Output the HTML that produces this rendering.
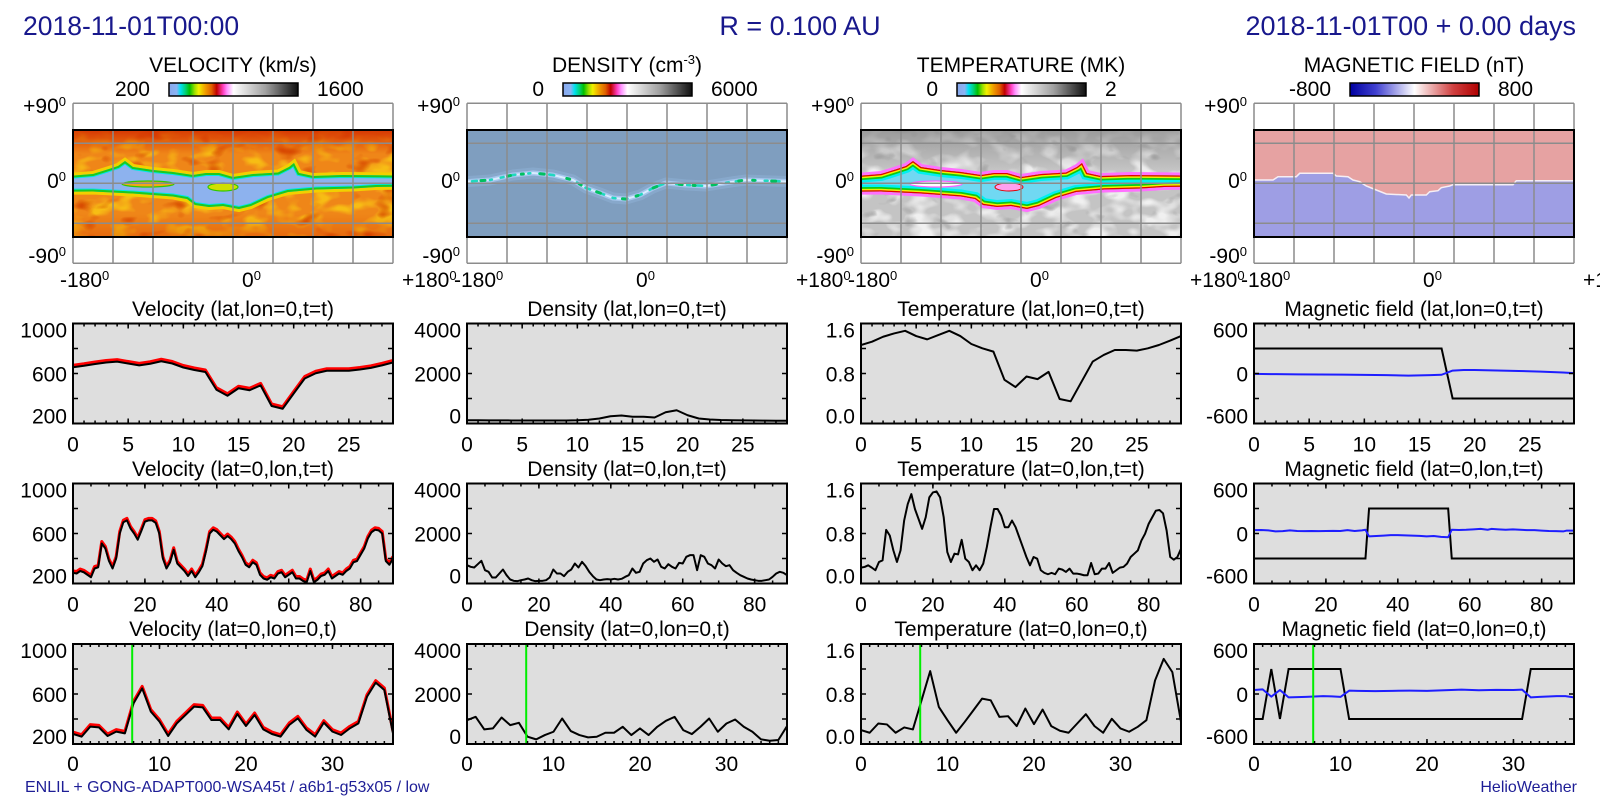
<!DOCTYPE html>
<html><head><meta charset="utf-8"><style>html,body{margin:0;padding:0;background:#fff;}svg{display:block}</style></head>
<body>
<svg xmlns="http://www.w3.org/2000/svg" xmlns:xlink="http://www.w3.org/1999/xlink" width="1600" height="800" viewBox="0 0 1600 800" font-family="'Liberation Sans', Arial, sans-serif">
<defs>
<linearGradient id="cbR" x1="0" y1="0" x2="1" y2="0">
<stop offset="0" stop-color="#88a8ec"/><stop offset="0.06" stop-color="#8ab4f4"/><stop offset="0.09" stop-color="#00e0f0"/><stop offset="0.13" stop-color="#00d070"/><stop offset="0.16" stop-color="#00c000"/><stop offset="0.2" stop-color="#a0e000"/><stop offset="0.23" stop-color="#f0f000"/><stop offset="0.28" stop-color="#f0a000"/><stop offset="0.33" stop-color="#e06000"/><stop offset="0.37" stop-color="#c00000"/><stop offset="0.42" stop-color="#ff40c0"/><stop offset="0.45" stop-color="#ff90ff"/><stop offset="0.5" stop-color="#ffffff"/><stop offset="0.75" stop-color="#a0a0a0"/><stop offset="1" stop-color="#101010"/>
</linearGradient>
<linearGradient id="cbB" x1="0" y1="0" x2="1" y2="0">
<stop offset="0" stop-color="#0000a0"/><stop offset="0.2" stop-color="#4040d0"/><stop offset="0.4" stop-color="#c0c0f0"/><stop offset="0.5" stop-color="#ffffff"/><stop offset="0.6" stop-color="#f0c0c0"/><stop offset="0.8" stop-color="#d04040"/><stop offset="1" stop-color="#b00000"/>
</linearGradient>
<linearGradient id="gRed" x1="0" y1="0" x2="0" y2="1"><stop offset="0" stop-color="#d42e00" stop-opacity="0.9"/><stop offset="1" stop-color="#d42e00" stop-opacity="0"/></linearGradient>
<linearGradient id="gRedB" x1="0" y1="1" x2="0" y2="0"><stop offset="0" stop-color="#d84000" stop-opacity="0.4"/><stop offset="1" stop-color="#d84000" stop-opacity="0"/></linearGradient>
<linearGradient id="gGray" x1="0" y1="0" x2="0" y2="1"><stop offset="0" stop-color="#8c8c8c" stop-opacity="0.75"/><stop offset="1" stop-color="#8c8c8c" stop-opacity="0"/></linearGradient>
<filter id="nY" x="0" y="0" width="1" height="1" color-interpolation-filters="sRGB">
<feTurbulence type="fractalNoise" baseFrequency="0.045 0.08" numOctaves="2" seed="4"/>
<feColorMatrix type="matrix" values="0 0 0 0 0.97  0 0 0 0 0.74  0 0 0 0 0.08  4 0 0 0 -1.9"/>
</filter>
<filter id="nR" x="0" y="0" width="1" height="1" color-interpolation-filters="sRGB">
<feTurbulence type="fractalNoise" baseFrequency="0.04 0.07" numOctaves="2" seed="9"/>
<feColorMatrix type="matrix" values="0 0 0 0 0.84  0 0 0 0 0.28  0 0 0 0 0  0 4 0 0 -2.4"/>
</filter>
<filter id="nW" x="0" y="0" width="1" height="1" color-interpolation-filters="sRGB">
<feTurbulence type="fractalNoise" baseFrequency="0.045 0.07" numOctaves="2" seed="7"/>
<feColorMatrix type="matrix" values="0 0 0 0 0.94  0 0 0 0 0.94  0 0 0 0 0.94  4 0 0 0 -1.8"/>
</filter>
<filter id="nD" x="0" y="0" width="1" height="1" color-interpolation-filters="sRGB">
<feTurbulence type="fractalNoise" baseFrequency="0.05 0.08" numOctaves="2" seed="12"/>
<feColorMatrix type="matrix" values="0 0 0 0 0.6  0 0 0 0 0.6  0 0 0 0 0.6  0 4 0 0 -2.5"/>
</filter>
<path id="band" d="M-5,176 L20,174 L36,169 L45,166 L52,161 L60,167 L80,170 L100,172 L120,175 L133,173 L146,173 L160,177 L180,174 L205,172.5 L216,167 L221,163 L226,173 L240,176 L270,175 L325,175.5 L325,186.7 L303,187 L280,188.5 L243,189.5 L215,192 L195,198 L178,206 L166,209 L150,206 L136,207 L122,205 L114,199 L100,196.5 L80,195 L60,193.5 L40,192.5 L20,191.5 L-5,191.7 Z"/>
<path id="dband" d="M-5,182 L23,180 L46,175 L66,173 L86,175 L106,180 L119,188 L133,193 L146,198 L159,199 L173,195 L186,188 L199,183 L219,185 L239,186 L266,181.7 L279,180 L325,181.7"/>
<clipPath id="cV"><rect x="73" y="130" width="320" height="107"/></clipPath>
<clipPath id="cD"><rect x="467" y="130" width="320" height="107"/></clipPath>
<clipPath id="cT"><rect x="861" y="130" width="320" height="107"/></clipPath>
<clipPath id="cbV"><use xlink:href="#band" transform="translate(73,0)"/></clipPath>
<clipPath id="cbT"><use xlink:href="#band" transform="translate(861,0)"/></clipPath>
<g id="grid" stroke="#8c8c8c" stroke-width="1.5" fill="none">
<path d="M0,103.3H320 M0,143.3H320 M0,183.3H320 M0,223.3H320 M0,263.3H320 M0,103.3V263.3 M40,103.3V263.3 M80,103.3V263.3 M120,103.3V263.3 M160,103.3V263.3 M200,103.3V263.3 M240,103.3V263.3 M280,103.3V263.3 M320,103.3V263.3"/>
</g>
<g id="yt" stroke="#000" stroke-width="1.5" fill="none"><path d="M0,25H5 M0,50H5 M0,75H5 M315,25H320 M315,50H320 M315,75H320"/><rect x="0" y="0" width="320" height="100" stroke-width="2"/></g>
<g id="tk1" stroke="#000" fill="none">
<line x1="0" y1="1.5" x2="320" y2="1.5" stroke-width="3" stroke-dasharray="1.5 9.5345" stroke-dashoffset="0.75"/>
<line x1="0" y1="98.5" x2="320" y2="98.5" stroke-width="3" stroke-dasharray="1.5 9.5345" stroke-dashoffset="0.75"/>
<line x1="0" y1="2.5" x2="320" y2="2.5" stroke-width="5" stroke-dasharray="1.5 53.6725" stroke-dashoffset="0.75"/>
<line x1="0" y1="97.5" x2="320" y2="97.5" stroke-width="5" stroke-dasharray="1.5 53.6725" stroke-dashoffset="0.75"/>
<use xlink:href="#yt"/>
</g>
<g id="tk2" stroke="#000" fill="none">
<line x1="0" y1="1.5" x2="320" y2="1.5" stroke-width="3" stroke-dasharray="1.5 16.478" stroke-dashoffset="0.75"/>
<line x1="0" y1="98.5" x2="320" y2="98.5" stroke-width="3" stroke-dasharray="1.5 16.478" stroke-dashoffset="0.75"/>
<line x1="0" y1="2.5" x2="320" y2="2.5" stroke-width="5" stroke-dasharray="1.5 70.41" stroke-dashoffset="0.75"/>
<line x1="0" y1="97.5" x2="320" y2="97.5" stroke-width="5" stroke-dasharray="1.5 70.41" stroke-dashoffset="0.75"/>
<use xlink:href="#yt"/>
</g>
<g id="tk3" stroke="#000" fill="none">
<line x1="0" y1="1.5" x2="320" y2="1.5" stroke-width="3" stroke-dasharray="1.5 7.1486" stroke-dashoffset="0.75"/>
<line x1="0" y1="98.5" x2="320" y2="98.5" stroke-width="3" stroke-dasharray="1.5 7.1486" stroke-dashoffset="0.75"/>
<line x1="0" y1="2.5" x2="320" y2="2.5" stroke-width="5" stroke-dasharray="1.5 84.986" stroke-dashoffset="0.75"/>
<line x1="0" y1="97.5" x2="320" y2="97.5" stroke-width="5" stroke-dasharray="1.5 84.986" stroke-dashoffset="0.75"/>
<use xlink:href="#yt"/>
</g>
</defs>

<rect x="0" y="0" width="1600" height="800" fill="#fff"/>

<!-- Header -->
<g fill="#18188c">
<text x="23" y="35" font-size="26.5">2018-11-01T00:00</text>
<text x="800" y="35" font-size="27" text-anchor="middle">R = 0.100 AU</text>
<text x="1576" y="35" font-size="27" text-anchor="end">2018-11-01T00 + 0.00 days</text>
</g>

<!-- ===== MAPS ===== -->
<!-- Velocity map -->
<g clip-path="url(#cV)">
<rect x="73" y="130" width="320" height="107" fill="#ef8618"/>
<rect x="73" y="130" width="320" height="107" filter="url(#nY)"/>
<rect x="73" y="130" width="320" height="107" filter="url(#nR)"/>
<rect x="73" y="130" width="320" height="24" fill="url(#gRed)"/>
<rect x="73" y="214" width="320" height="23" fill="url(#gRedB)"/>
<use xlink:href="#band" transform="translate(73,0)" fill="none" stroke="#f2d000" stroke-width="6"/>
<g clip-path="url(#cbV)">
<use xlink:href="#band" transform="translate(73,0)" fill="#8db2ee" stroke="#00e6e6" stroke-width="6"/>
<use xlink:href="#band" transform="translate(73,0)" fill="none" stroke="#1ec81e" stroke-width="4"/>
</g>
<ellipse cx="148" cy="184" rx="26" ry="3" fill="#f0a818" stroke="#30c800" stroke-width="1.2"/>
<ellipse cx="223" cy="187" rx="15" ry="4" fill="#d0e000" stroke="#30c800" stroke-width="1.2"/>
</g>
<use xlink:href="#grid" transform="translate(73,0)"/>
<rect x="73" y="130" width="320" height="107" fill="none" stroke="#000" stroke-width="2"/>

<!-- Density map -->
<g clip-path="url(#cD)">
<rect x="467" y="130" width="320" height="107" fill="#7f9ebf"/>
<g transform="translate(467,0)" fill="none" stroke-linejoin="round" stroke-linecap="round">
<use xlink:href="#dband" stroke="#90b2d8" stroke-width="11" opacity="0.5"/>
<use xlink:href="#dband" stroke="#a8c8f0" stroke-width="5" opacity="0.9"/>
<use xlink:href="#dband" stroke="#d8ecff" stroke-width="2"/>
<use xlink:href="#dband" stroke="#20d8c0" stroke-width="2.5" stroke-dasharray="3 7 5 13 2 9"/>
<use xlink:href="#dband" stroke="#00c060" stroke-width="3" stroke-dasharray="2 17 4 23 3 11"/>
</g>
</g>
<use xlink:href="#grid" transform="translate(467,0)"/>
<rect x="467" y="130" width="320" height="107" fill="none" stroke="#000" stroke-width="2"/>

<!-- Temperature map -->
<g clip-path="url(#cT)">
<rect x="861" y="130" width="320" height="107" fill="#c4c4c4"/>
<rect x="861" y="130" width="320" height="107" filter="url(#nW)"/>
<rect x="861" y="130" width="320" height="107" filter="url(#nD)"/>
<rect x="861" y="130" width="320" height="40" fill="url(#gGray)"/>
<use xlink:href="#band" transform="translate(861,0)" fill="none" stroke="#ff70ff" stroke-width="6"/>
<g clip-path="url(#cbT)">
<use xlink:href="#band" transform="translate(861,0)" fill="#70d8f2" stroke="#00f0f0" stroke-width="14"/>
<use xlink:href="#band" transform="translate(861,0)" fill="none" stroke="#10c810" stroke-width="9"/>
<use xlink:href="#band" transform="translate(861,0)" fill="none" stroke="#f0f000" stroke-width="5.5"/>
<use xlink:href="#band" transform="translate(861,0)" fill="none" stroke="#e00000" stroke-width="2.5"/>
</g>
<ellipse cx="936" cy="184" rx="26" ry="3" fill="#ffffff" stroke="#ff60ff" stroke-width="1.2"/>
<ellipse cx="1009" cy="187" rx="14" ry="4" fill="#ffa0f0" stroke="#e00000" stroke-width="1"/>
</g>
<use xlink:href="#grid" transform="translate(861,0)"/>
<rect x="861" y="130" width="320" height="107" fill="none" stroke="#000" stroke-width="2"/>

<!-- Magnetic map -->
<rect x="1254" y="130" width="320" height="107" fill="#e6a2a2"/>
<polygon points="1254,180 1273,180 1278,176.7 1296.3,176.7 1299.7,173.3 1333,173.3 1336.3,176 1348,176.7 1353,180 1359.7,181.7 1366.3,186 1376.3,190 1386.3,194 1406.3,195 1409,198 1411.3,195 1426.3,195 1429.7,191.7 1438,190.7 1441.3,187.7 1449.7,186 1453,184.7 1513,184.7 1516.3,180.7 1574,180.7 1574,237 1254,237" fill="#9e9ee4"/>
<polyline points="1254,180 1273,180 1278,176.7 1296.3,176.7 1299.7,173.3 1333,173.3 1336.3,176 1348,176.7 1353,180 1359.7,181.7 1366.3,186 1376.3,190 1386.3,194 1406.3,195 1409,198 1411.3,195 1426.3,195 1429.7,191.7 1438,190.7 1441.3,187.7 1449.7,186 1453,184.7 1513,184.7 1516.3,180.7 1574,180.7" fill="none" stroke="#f6eef4" stroke-width="1.5"/>
<use xlink:href="#grid" transform="translate(1254,0)"/>
<rect x="1254" y="130" width="320" height="107" fill="none" stroke="#000" stroke-width="2"/>

<!-- Colorbars -->
<rect x="169" y="83" width="129" height="13" fill="url(#cbR)" stroke="#000" stroke-width="1.5"/>
<rect x="563" y="83" width="129" height="13" fill="url(#cbR)" stroke="#000" stroke-width="1.5"/>
<rect x="957" y="83" width="129" height="13" fill="url(#cbR)" stroke="#000" stroke-width="1.5"/>
<rect x="1350" y="83" width="129" height="13" fill="url(#cbB)" stroke="#000" stroke-width="1.5"/>

<!-- Map texts -->
<g font-size="21" fill="#000">
<text x="233" y="72" text-anchor="middle">VELOCITY (km/s)</text>
<text x="627" y="72" text-anchor="middle">DENSITY (cm<tspan font-size="13" dy="-8">-3</tspan><tspan dy="8">)</tspan></text>
<text x="1021" y="72" text-anchor="middle">TEMPERATURE (MK)</text>
<text x="1414" y="72" text-anchor="middle">MAGNETIC FIELD (nT)</text>

<text x="150" y="96" text-anchor="end">200</text><text x="317" y="96">1600</text>
<text x="544" y="96" text-anchor="end">0</text><text x="711" y="96">6000</text>
<text x="938" y="96" text-anchor="end">0</text><text x="1105" y="96">2</text>
<text x="1331" y="96" text-anchor="end">-800</text><text x="1498" y="96">800</text>

<text x="66" y="113" text-anchor="end">+90<tspan font-size="13" dy="-7">0</tspan></text>
<text x="66" y="188" text-anchor="end">0<tspan font-size="13" dy="-7">0</tspan></text>
<text x="66" y="263" text-anchor="end">-90<tspan font-size="13" dy="-7">0</tspan></text>
<text x="460" y="113" text-anchor="end">+90<tspan font-size="13" dy="-7">0</tspan></text>
<text x="460" y="188" text-anchor="end">0<tspan font-size="13" dy="-7">0</tspan></text>
<text x="460" y="263" text-anchor="end">-90<tspan font-size="13" dy="-7">0</tspan></text>
<text x="854" y="113" text-anchor="end">+90<tspan font-size="13" dy="-7">0</tspan></text>
<text x="854" y="188" text-anchor="end">0<tspan font-size="13" dy="-7">0</tspan></text>
<text x="854" y="263" text-anchor="end">-90<tspan font-size="13" dy="-7">0</tspan></text>
<text x="1247" y="113" text-anchor="end">+90<tspan font-size="13" dy="-7">0</tspan></text>
<text x="1247" y="188" text-anchor="end">0<tspan font-size="13" dy="-7">0</tspan></text>
<text x="1247" y="263" text-anchor="end">-90<tspan font-size="13" dy="-7">0</tspan></text>

<text x="60" y="287">-180<tspan font-size="13" dy="-7">0</tspan></text>
<text x="242" y="287">0<tspan font-size="13" dy="-7">0</tspan></text>
<text x="402" y="287">+180<tspan font-size="13" dy="-7">0</tspan></text>
<text x="454" y="287">-180<tspan font-size="13" dy="-7">0</tspan></text>
<text x="636" y="287">0<tspan font-size="13" dy="-7">0</tspan></text>
<text x="796" y="287">+180<tspan font-size="13" dy="-7">0</tspan></text>
<text x="848" y="287">-180<tspan font-size="13" dy="-7">0</tspan></text>
<text x="1030" y="287">0<tspan font-size="13" dy="-7">0</tspan></text>
<text x="1190" y="287">+180<tspan font-size="13" dy="-7">0</tspan></text>
<text x="1241" y="287">-180<tspan font-size="13" dy="-7">0</tspan></text>
<text x="1423" y="287">0<tspan font-size="13" dy="-7">0</tspan></text>
<text x="1583" y="287">+180<tspan font-size="13" dy="-7">0</tspan></text>
</g>

<!-- ===== LINE PLOTS ===== -->
<g font-size="21" fill="#000">

<!-- Velocity row 1 -->
<g transform="translate(73,323.5)">
<rect x="0" y="0" width="320" height="100" fill="#dedede"/>
<svg x="0" y="-2" width="320" height="100" viewBox="0 -1000 29 800" preserveAspectRatio="none"><polyline fill="none" stroke="#ff0000" stroke-width="3" vector-effect="non-scaling-stroke" stroke-linejoin="round" points="0,-650 1,-662 2,-676 3,-688 4,-695 5,-680 6,-665 7,-678 8,-698 9,-680 10,-648 11,-628 12,-612 13,-470 14,-422 15,-482 16,-466 17,-505 18,-340 19,-318 20,-440 21,-560 22,-602 23,-622 24,-622 25,-622 26,-632 27,-645 28,-665 29,-688"/></svg>
<svg x="0" y="0" width="320" height="100" viewBox="0 -1000 29 800" preserveAspectRatio="none"><polyline fill="none" stroke="#000" stroke-width="2" vector-effect="non-scaling-stroke" stroke-linejoin="round" points="0,-650 1,-662 2,-676 3,-688 4,-695 5,-680 6,-665 7,-678 8,-698 9,-680 10,-648 11,-628 12,-612 13,-470 14,-422 15,-482 16,-466 17,-505 18,-340 19,-318 20,-440 21,-560 22,-602 23,-622 24,-622 25,-622 26,-632 27,-645 28,-665 29,-688"/></svg>
<use xlink:href="#tk1"/>
<text x="160" y="-7.5" text-anchor="middle">Velocity (lat,lon=0,t=t)</text>
<text x="-6" y="14" text-anchor="end">1000</text><text x="-6" y="58" text-anchor="end">600</text><text x="-6" y="100" text-anchor="end">200</text>
<g text-anchor="middle"><text x="0" y="128">0</text><text x="55.17" y="128">5</text><text x="110.34" y="128">10</text><text x="165.52" y="128">15</text><text x="220.69" y="128">20</text><text x="275.86" y="128">25</text></g>
</g>

<!-- Velocity row 2 -->
<g transform="translate(73,483.5)">
<rect x="0" y="0" width="320" height="100" fill="#dedede"/>
<svg x="0" y="-2" width="320" height="100" viewBox="0 -1000 89 800" preserveAspectRatio="none"><polyline fill="none" stroke="#ff0000" stroke-width="3" vector-effect="non-scaling-stroke" stroke-linejoin="round" points="0,-285 1,-280 2,-300 3,-290 4,-270 5,-250 6,-320 7,-330 8,-520 9,-480 10,-380 11,-320 12,-400 13,-600 14,-690 15,-705 16,-640 17,-600 18,-550 19,-620 20,-695 21,-705 22,-705 23,-685 24,-600 25,-400 26,-320 27,-370 28,-470 29,-360 30,-330 31,-300 32,-260 33,-300 34,-250 35,-290 36,-340 37,-460 38,-600 39,-630 40,-615 41,-585 42,-555 43,-580 44,-555 45,-520 46,-460 47,-410 48,-350 49,-330 50,-370 51,-350 52,-270 53,-240 54,-230 55,-250 56,-240 57,-280 58,-290 59,-250 60,-270 61,-290 62,-240 63,-240 64,-220 65,-210 66,-300 67,-210 68,-230 69,-260 70,-270 71,-300 72,-240 73,-260 74,-280 75,-270 76,-300 77,-320 78,-370 79,-380 80,-430 81,-480 82,-560 83,-610 84,-630 85,-625 86,-600 87,-380 88,-350 89,-400"/></svg>
<svg x="0" y="0" width="320" height="100" viewBox="0 -1000 89 800" preserveAspectRatio="none"><polyline fill="none" stroke="#000" stroke-width="2" vector-effect="non-scaling-stroke" stroke-linejoin="round" points="0,-285 1,-280 2,-300 3,-290 4,-270 5,-250 6,-320 7,-330 8,-520 9,-480 10,-380 11,-320 12,-400 13,-600 14,-690 15,-705 16,-640 17,-600 18,-550 19,-620 20,-695 21,-705 22,-705 23,-685 24,-600 25,-400 26,-320 27,-370 28,-470 29,-360 30,-330 31,-300 32,-260 33,-300 34,-250 35,-290 36,-340 37,-460 38,-600 39,-630 40,-615 41,-585 42,-555 43,-580 44,-555 45,-520 46,-460 47,-410 48,-350 49,-330 50,-370 51,-350 52,-270 53,-240 54,-230 55,-250 56,-240 57,-280 58,-290 59,-250 60,-270 61,-290 62,-240 63,-240 64,-220 65,-210 66,-300 67,-210 68,-230 69,-260 70,-270 71,-300 72,-240 73,-260 74,-280 75,-270 76,-300 77,-320 78,-370 79,-380 80,-430 81,-480 82,-560 83,-610 84,-630 85,-625 86,-600 87,-380 88,-350 89,-400"/></svg>
<use xlink:href="#tk2"/>
<text x="160" y="-7.5" text-anchor="middle">Velocity (lat=0,lon,t=t)</text>
<text x="-6" y="14" text-anchor="end">1000</text><text x="-6" y="58" text-anchor="end">600</text><text x="-6" y="100" text-anchor="end">200</text>
<g text-anchor="middle"><text x="0" y="128">0</text><text x="71.91" y="128">20</text><text x="143.82" y="128">40</text><text x="215.73" y="128">60</text><text x="287.64" y="128">80</text></g>
</g>

<!-- Velocity row 3 -->
<g transform="translate(73,644)">
<rect x="0" y="0" width="320" height="100" fill="#dedede"/>
<svg x="0" y="-2" width="320" height="100" viewBox="0 -1000 37 800" preserveAspectRatio="none"><polyline fill="none" stroke="#ff0000" stroke-width="3" vector-effect="non-scaling-stroke" stroke-linejoin="round" points="0,-280 1,-259 2,-339 3,-333 4,-264 5,-299 6,-285 7,-525 8,-645 9,-459 10,-379 11,-264 12,-365 13,-432 14,-499 15,-493 16,-392 17,-392 18,-317 19,-440 20,-344 21,-432 22,-317 23,-280 24,-259 25,-352 26,-405 27,-312 28,-259 29,-371 30,-299 31,-272 32,-325 33,-365 34,-579 35,-691 36,-632 37,-285"/></svg>
<svg x="0" y="0" width="320" height="100" viewBox="0 -1000 37 800" preserveAspectRatio="none"><polyline fill="none" stroke="#000" stroke-width="2" vector-effect="non-scaling-stroke" stroke-linejoin="round" points="0,-280 1,-259 2,-339 3,-333 4,-264 5,-299 6,-285 7,-525 8,-645 9,-459 10,-379 11,-264 12,-365 13,-432 14,-499 15,-493 16,-392 17,-392 18,-317 19,-440 20,-344 21,-432 22,-317 23,-280 24,-259 25,-352 26,-405 27,-312 28,-259 29,-371 30,-299 31,-272 32,-325 33,-365 34,-579 35,-691 36,-632 37,-285"/></svg>
<line x1="59.2" y1="0" x2="59.2" y2="100" stroke="#00ee00" stroke-width="2"/>
<use xlink:href="#tk3"/>
<text x="160" y="-8" text-anchor="middle">Velocity (lat=0,lon=0,t)</text>
<text x="-6" y="14" text-anchor="end">1000</text><text x="-6" y="58" text-anchor="end">600</text><text x="-6" y="100" text-anchor="end">200</text>
<g text-anchor="middle"><text x="0" y="127">0</text><text x="86.49" y="127">10</text><text x="172.97" y="127">20</text><text x="259.46" y="127">30</text></g>
</g>

<!-- Density row 1 -->
<g transform="translate(467,323.5)">
<rect x="0" y="0" width="320" height="100" fill="#dedede"/>
<svg x="0" y="0" width="320" height="100" viewBox="0 -4000 29 4000" preserveAspectRatio="none"><polyline fill="none" stroke="#000" stroke-width="2" vector-effect="non-scaling-stroke" stroke-linejoin="round" points="0,-130 1,-128 2,-125 3,-125 4,-122 5,-120 6,-120 7,-120 8,-120 9,-122 10,-130 11,-150 12,-200 13,-290 14,-320 15,-270 16,-270 17,-240 18,-450 19,-530 20,-330 21,-200 22,-160 23,-140 24,-130 25,-125 26,-120 27,-115 28,-110 29,-110"/></svg>
<use xlink:href="#tk1"/>
<text x="160" y="-7.5" text-anchor="middle">Density (lat,lon=0,t=t)</text>
<text x="-6" y="14" text-anchor="end">4000</text><text x="-6" y="58" text-anchor="end">2000</text><text x="-6" y="100" text-anchor="end">0</text>
<g text-anchor="middle"><text x="0" y="128">0</text><text x="55.17" y="128">5</text><text x="110.34" y="128">10</text><text x="165.52" y="128">15</text><text x="220.69" y="128">20</text><text x="275.86" y="128">25</text></g>
</g>

<!-- Density row 2 -->
<g transform="translate(467,483.5)">
<rect x="0" y="0" width="320" height="100" fill="#dedede"/>
<svg x="0" y="0" width="320" height="100" viewBox="0 -4000 89 4000" preserveAspectRatio="none"><polyline fill="none" stroke="#000" stroke-width="2" vector-effect="non-scaling-stroke" stroke-linejoin="round" points="0,-733 1,-667 2,-640 3,-773 4,-907 5,-533 6,-467 7,-240 8,-240 9,-400 10,-560 11,-333 12,-160 13,-107 14,-93 15,-133 16,-160 17,-200 18,-133 19,-93 20,-107 21,-107 22,-133 23,-240 24,-560 25,-400 26,-400 27,-293 28,-467 29,-560 30,-800 31,-640 32,-867 33,-693 34,-467 35,-293 36,-160 37,-133 38,-160 39,-173 40,-160 41,-187 42,-160 43,-187 44,-267 45,-333 46,-600 47,-427 48,-467 49,-800 50,-933 51,-1000 52,-867 53,-960 54,-667 55,-600 56,-773 57,-667 58,-600 59,-827 60,-800 61,-1067 62,-1133 63,-1133 64,-533 65,-1133 66,-1067 67,-800 68,-733 69,-600 70,-960 71,-800 72,-693 73,-733 74,-533 75,-427 76,-333 77,-267 78,-200 79,-160 80,-133 81,-107 82,-107 83,-133 84,-160 85,-267 86,-400 87,-467 88,-427 89,-333"/></svg>
<use xlink:href="#tk2"/>
<text x="160" y="-7.5" text-anchor="middle">Density (lat=0,lon,t=t)</text>
<text x="-6" y="14" text-anchor="end">4000</text><text x="-6" y="58" text-anchor="end">2000</text><text x="-6" y="100" text-anchor="end">0</text>
<g text-anchor="middle"><text x="0" y="128">0</text><text x="71.91" y="128">20</text><text x="143.82" y="128">40</text><text x="215.73" y="128">60</text><text x="287.64" y="128">80</text></g>
</g>

<!-- Density row 3 -->
<g transform="translate(467,644)">
<rect x="0" y="0" width="320" height="100" fill="#dedede"/>
<svg x="0" y="0" width="320" height="100" viewBox="0 -4000 37 4000" preserveAspectRatio="none"><polyline fill="none" stroke="#000" stroke-width="2" vector-effect="non-scaling-stroke" stroke-linejoin="round" points="0,-954 1,-1086 2,-583 3,-623 4,-1060 5,-755 6,-848 7,-291 8,-185 9,-358 10,-490 11,-1020 12,-517 13,-358 14,-265 15,-291 16,-450 17,-450 18,-689 19,-358 20,-623 21,-358 22,-689 23,-927 24,-1086 25,-556 26,-397 27,-689 28,-1020 29,-490 30,-821 31,-980 32,-689 33,-490 34,-185 35,-132 36,-159 37,-715"/></svg>
<line x1="59.2" y1="0" x2="59.2" y2="100" stroke="#00ee00" stroke-width="2"/>
<use xlink:href="#tk3"/>
<text x="160" y="-8" text-anchor="middle">Density (lat=0,lon=0,t)</text>
<text x="-6" y="14" text-anchor="end">4000</text><text x="-6" y="58" text-anchor="end">2000</text><text x="-6" y="100" text-anchor="end">0</text>
<g text-anchor="middle"><text x="0" y="127">0</text><text x="86.49" y="127">10</text><text x="172.97" y="127">20</text><text x="259.46" y="127">30</text></g>
</g>

<!-- Temperature row 1 -->
<g transform="translate(861,323.5)">
<rect x="0" y="0" width="320" height="100" fill="#dedede"/>
<svg x="0" y="0" width="320" height="100" viewBox="0 -1600 29 1600" preserveAspectRatio="none"><polyline fill="none" stroke="#000" stroke-width="2" vector-effect="non-scaling-stroke" stroke-linejoin="round" points="0,-1256 1,-1309 2,-1388 3,-1441 4,-1483 5,-1399 6,-1346 7,-1415 8,-1483 9,-1399 10,-1272 11,-1203 12,-1150 13,-699 14,-583 15,-752 16,-710 17,-826 18,-392 19,-355 20,-673 21,-991 22,-1097 23,-1176 24,-1176 25,-1166 26,-1203 27,-1256 28,-1325 29,-1399"/></svg>
<use xlink:href="#tk1"/>
<text x="160" y="-7.5" text-anchor="middle">Temperature (lat,lon=0,t=t)</text>
<text x="-6" y="14" text-anchor="end">1.6</text><text x="-6" y="58" text-anchor="end">0.8</text><text x="-6" y="100" text-anchor="end">0.0</text>
<g text-anchor="middle"><text x="0" y="128">0</text><text x="55.17" y="128">5</text><text x="110.34" y="128">10</text><text x="165.52" y="128">15</text><text x="220.69" y="128">20</text><text x="275.86" y="128">25</text></g>
</g>

<!-- Temperature row 2 -->
<g transform="translate(861,483.5)">
<rect x="0" y="0" width="320" height="100" fill="#dedede"/>
<svg x="0" y="0" width="320" height="100" viewBox="0 -1600 89 1600" preserveAspectRatio="none"><polyline fill="none" stroke="#000" stroke-width="2" vector-effect="non-scaling-stroke" stroke-linejoin="round" points="0,-254 1,-265 2,-291 3,-254 4,-212 5,-344 6,-371 7,-858 8,-768 9,-530 10,-344 11,-530 12,-1007 13,-1271 14,-1430 15,-1192 16,-1033 17,-874 18,-1060 19,-1378 20,-1457 21,-1473 22,-1378 23,-1060 24,-503 25,-344 26,-477 27,-466 28,-699 29,-397 30,-344 31,-212 32,-291 33,-212 34,-318 35,-583 36,-901 37,-1192 38,-1192 39,-1086 40,-901 41,-901 42,-1007 43,-901 44,-742 45,-583 46,-424 47,-291 48,-424 49,-397 50,-212 51,-170 52,-148 53,-170 54,-148 55,-238 56,-222 57,-185 58,-238 59,-159 60,-159 61,-148 62,-132 63,-132 64,-328 65,-148 66,-159 67,-238 68,-238 69,-328 70,-170 71,-212 72,-254 73,-265 74,-318 75,-424 76,-477 77,-530 78,-689 79,-795 80,-954 81,-1060 82,-1165 83,-1176 84,-1123 85,-848 86,-424 87,-381 88,-424 89,-556"/></svg>
<use xlink:href="#tk2"/>
<text x="160" y="-7.5" text-anchor="middle">Temperature (lat=0,lon,t=t)</text>
<text x="-6" y="14" text-anchor="end">1.6</text><text x="-6" y="58" text-anchor="end">0.8</text><text x="-6" y="100" text-anchor="end">0.0</text>
<g text-anchor="middle"><text x="0" y="128">0</text><text x="71.91" y="128">20</text><text x="143.82" y="128">40</text><text x="215.73" y="128">60</text><text x="287.64" y="128">80</text></g>
</g>

<!-- Temperature row 3 -->
<g transform="translate(861,644)">
<rect x="0" y="0" width="320" height="100" fill="#dedede"/>
<svg x="0" y="0" width="320" height="100" viewBox="0 -1600 37 1600" preserveAspectRatio="none"><polyline fill="none" stroke="#000" stroke-width="2" vector-effect="non-scaling-stroke" stroke-linejoin="round" points="0,-223 1,-180 2,-328 3,-313 4,-180 5,-265 6,-233 7,-699 8,-1166 9,-593 10,-381 11,-180 12,-355 13,-540 14,-726 15,-699 16,-434 17,-445 18,-286 19,-567 20,-318 21,-551 22,-286 23,-212 24,-180 25,-328 26,-477 27,-286 28,-180 29,-403 30,-249 31,-196 32,-275 33,-381 34,-1017 35,-1362 36,-1150 37,-355"/></svg>
<line x1="59.2" y1="0" x2="59.2" y2="100" stroke="#00ee00" stroke-width="2"/>
<use xlink:href="#tk3"/>
<text x="160" y="-8" text-anchor="middle">Temperature (lat=0,lon=0,t)</text>
<text x="-6" y="14" text-anchor="end">1.6</text><text x="-6" y="58" text-anchor="end">0.8</text><text x="-6" y="100" text-anchor="end">0.0</text>
<g text-anchor="middle"><text x="0" y="127">0</text><text x="86.49" y="127">10</text><text x="172.97" y="127">20</text><text x="259.46" y="127">30</text></g>
</g>

<!-- Magnetic row 1 -->
<g transform="translate(1254,323.5)">
<rect x="0" y="0" width="320" height="100" fill="#dedede"/>
<svg x="0" y="0" width="320" height="100" viewBox="0 -600 29 1200" preserveAspectRatio="none">
<polyline fill="none" stroke="#000" stroke-width="2" vector-effect="non-scaling-stroke" points="0,-300 17,-300 18,300 29,300"/>
<polyline fill="none" stroke="#1e1eff" stroke-width="2" vector-effect="non-scaling-stroke" stroke-linejoin="round" points="0,5 2,8 4,10 6,12 8,14 10,16 12,20 14,25 16,20 17,15 17.5,-10 18,-35 19,-42 20,-42 22,-36 24,-30 26,-22 28,-12 29,-5"/>
</svg>
<use xlink:href="#tk1"/>
<text x="160" y="-7.5" text-anchor="middle">Magnetic field (lat,lon=0,t=t)</text>
<text x="-6" y="14" text-anchor="end">600</text><text x="-6" y="58" text-anchor="end">0</text><text x="-6" y="100" text-anchor="end">-600</text>
<g text-anchor="middle"><text x="0" y="128">0</text><text x="55.17" y="128">5</text><text x="110.34" y="128">10</text><text x="165.52" y="128">15</text><text x="220.69" y="128">20</text><text x="275.86" y="128">25</text></g>
</g>

<!-- Magnetic row 2 -->
<g transform="translate(1254,483.5)">
<rect x="0" y="0" width="320" height="100" fill="#dedede"/>
<svg x="0" y="0" width="320" height="100" viewBox="0 -600 89 1200" preserveAspectRatio="none">
<polyline fill="none" stroke="#000" stroke-width="2" vector-effect="non-scaling-stroke" points="0,300 31,300 32,-300 54,-300 55,300 89,300"/>
<polyline fill="none" stroke="#1e1eff" stroke-width="2" vector-effect="non-scaling-stroke" stroke-linejoin="round" points="0,-40 2,-42 4,-38 6,-25 8,-28 10,-38 12,-30 14,-28 16,-30 18,-28 20,-30 22,-32 24,-30 26,-40 28,-30 30,-38 31,-45 32,35 34,30 36,25 38,20 40,20 42,22 44,25 46,28 48,35 50,30 52,40 54,45 55,-45 57,-42 59,-45 61,-50 63,-55 65,-45 66,-55 68,-50 70,-45 72,-50 74,-45 76,-40 78,-40 80,-35 82,-30 84,-28 86,-25 87,-35 89,-35"/>
</svg>
<use xlink:href="#tk2"/>
<text x="160" y="-7.5" text-anchor="middle">Magnetic field (lat=0,lon,t=t)</text>
<text x="-6" y="14" text-anchor="end">600</text><text x="-6" y="58" text-anchor="end">0</text><text x="-6" y="100" text-anchor="end">-600</text>
<g text-anchor="middle"><text x="0" y="128">0</text><text x="71.91" y="128">20</text><text x="143.82" y="128">40</text><text x="215.73" y="128">60</text><text x="287.64" y="128">80</text></g>
</g>

<!-- Magnetic row 3 -->
<g transform="translate(1254,644)">
<rect x="0" y="0" width="320" height="100" fill="#dedede"/>
<svg x="0" y="0" width="320" height="100" viewBox="0 -600 37 1200" preserveAspectRatio="none">
<polyline fill="none" stroke="#000" stroke-width="2" vector-effect="non-scaling-stroke" points="0,300 1,300 2,-300 3,300 4,-300 10,-300 11,300 31,300 32,-300 37,-300"/>
<polyline fill="none" stroke="#1e1eff" stroke-width="2" vector-effect="non-scaling-stroke" stroke-linejoin="round" points="0,-48 1,-56 2,32 3,-48 4,40 5,38 6,35 7,30 8,25 9,28 10,35 11,-40 12,-38 14,-35 16,-38 18,-40 20,-38 22,-45 24,-52 26,-45 28,-50 30,-48 31,-52 32,40 33,35 34,30 35,25 36,25 37,40"/>
</svg>
<line x1="59.2" y1="0" x2="59.2" y2="100" stroke="#00ee00" stroke-width="2"/>
<use xlink:href="#tk3"/>
<text x="160" y="-8" text-anchor="middle">Magnetic field (lat=0,lon=0,t)</text>
<text x="-6" y="14" text-anchor="end">600</text><text x="-6" y="58" text-anchor="end">0</text><text x="-6" y="100" text-anchor="end">-600</text>
<g text-anchor="middle"><text x="0" y="127">0</text><text x="86.49" y="127">10</text><text x="172.97" y="127">20</text><text x="259.46" y="127">30</text></g>
</g>
</g>

<!-- Footer -->
<g font-size="16" fill="#1e1e96">
<text x="25" y="792">ENLIL + GONG-ADAPT000-WSA45t / a6b1-g53x05 / low</text>
<text x="1577" y="792" text-anchor="end">HelioWeather</text>
</g>
</svg>
</body></html>
